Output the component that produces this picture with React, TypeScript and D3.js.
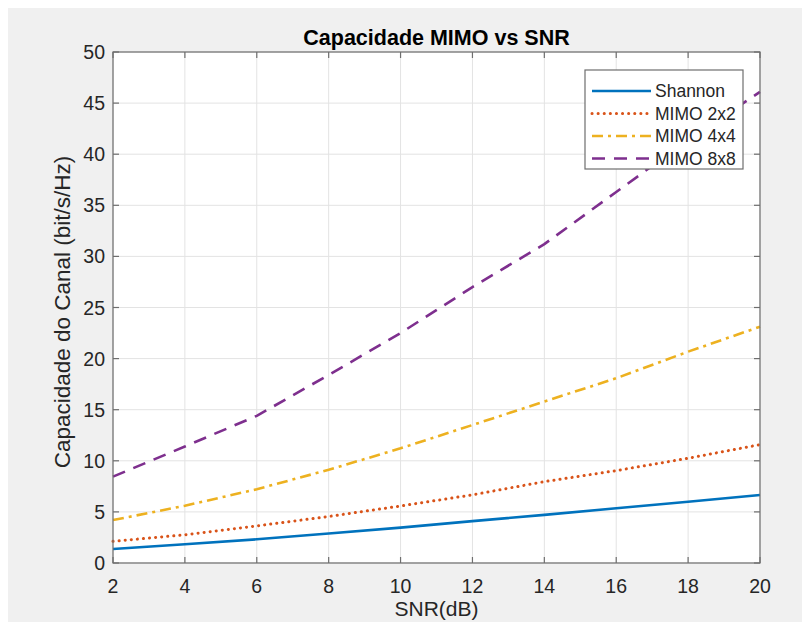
import React, { useEffect, useRef } from 'react';
import * as d3 from 'd3';

// SNR em dB
const snrDb = [2, 4, 6, 8, 10, 12, 14, 16, 18, 20];

// capacidade (bit/s/Hz)
const shannon = [1.37, 1.83, 2.32, 2.89, 3.46, 4.1, 4.71, 5.35, 6.0, 6.65];
const mimo2x2 = [2.12, 2.76, 3.63, 4.55, 5.58, 6.67, 7.96, 9.04, 10.25, 11.58];
const mimo4x4 = [4.2, 5.6, 7.22, 9.12, 11.22, 13.5, 15.8, 18.08, 20.68, 23.12];
const mimo8x8 = [8.45, 11.4, 14.4, 18.4, 22.5, 27.0, 31.2, 36.3, 41.4, 46.1];

const seriesNames = ['Shannon', 'MIMO 2x2', 'MIMO 4x4', 'MIMO 8x8'];
const xTicks = [2, 4, 6, 8, 10, 12, 14, 16, 18, 20];
const yTicks = [0, 5, 10, 15, 20, 25, 30, 35, 40, 45, 50];

const colors = ['#0072BD', '#D95319', '#EDB120', '#7E2F8E'];
const dashes = [null, '0.1 6', '11 5 3 5', '13 9'];
const caps = ['butt', 'round', 'butt', 'butt'];

const App = () => {
  const svgRef = useRef(null);

  useEffect(() => {
    const W = 802;
    const H = 614;
    const left = 105;
    const right = 752;
    const top = 44;
    const bottom = 555;
    const font = '"Liberation Sans", Arial, sans-serif';
    const axisColor = '#6e6e6e';

    const svg = d3.select(svgRef.current);
    svg.selectAll('*').remove();

    svg.append('rect').attr('width', W).attr('height', H).attr('fill', '#f0f0f0');

    const x = d3.scaleLinear().domain([2, 20]).range([left, right]);
    const y = d3.scaleLinear().domain([0, 50]).range([bottom, top]);

    svg.append('rect')
      .attr('x', left).attr('y', top)
      .attr('width', right - left).attr('height', bottom - top)
      .attr('fill', '#fff');

    // grelha
    const grid = svg.append('g').attr('stroke', '#e3e3e3').attr('stroke-width', 1);
    xTicks.forEach((t) => {
      grid.append('line').attr('x1', x(t)).attr('x2', x(t)).attr('y1', top).attr('y2', bottom);
    });
    yTicks.forEach((t) => {
      grid.append('line').attr('x1', left).attr('x2', right).attr('y1', y(t)).attr('y2', y(t));
    });

    // linhas
    const data = [shannon, mimo2x2, mimo4x4, mimo8x8];
    const line = d3.line()
      .x((d) => x(d[0]))
      .y((d) => y(d[1]));

    data.forEach((vals, i) => {
      const pts = snrDb.map((s, j) => [s, vals[j]]);
      const p = svg.append('path')
        .datum(pts)
        .attr('fill', 'none')
        .attr('stroke', colors[i])
        .attr('stroke-width', i === 1 ? 3 : 2.6)
        .attr('stroke-linecap', caps[i])
        .attr('d', line);
      if (dashes[i]) p.attr('stroke-dasharray', dashes[i]);
    });

    // eixos (caixa com ticks para dentro)
    const ax = svg.append('g').attr('stroke', axisColor).attr('stroke-width', 1.2).attr('fill', 'none');
    ax.append('rect')
      .attr('x', left).attr('y', top)
      .attr('width', right - left).attr('height', bottom - top);
    xTicks.forEach((t) => {
      ax.append('line').attr('x1', x(t)).attr('x2', x(t)).attr('y1', bottom).attr('y2', bottom - 6);
      ax.append('line').attr('x1', x(t)).attr('x2', x(t)).attr('y1', top).attr('y2', top + 6);
    });
    yTicks.forEach((t) => {
      ax.append('line').attr('x1', left).attr('x2', left + 6).attr('y1', y(t)).attr('y2', y(t));
      ax.append('line').attr('x1', right).attr('x2', right - 6).attr('y1', y(t)).attr('y2', y(t));
    });

    const txt = svg.append('g').attr('font-family', font).attr('fill', '#262626');

    xTicks.forEach((t) => {
      txt.append('text')
        .attr('x', x(t)).attr('y', bottom + 30)
        .attr('text-anchor', 'middle')
        .attr('font-size', 19.5)
        .text(t);
    });
    yTicks.forEach((t) => {
      txt.append('text')
        .attr('x', left - 8).attr('y', y(t) + 7)
        .attr('text-anchor', 'end')
        .attr('font-size', 19.5)
        .text(t);
    });

    txt.append('text')
      .attr('x', (left + right) / 2).attr('y', 37)
      .attr('text-anchor', 'middle')
      .attr('font-size', 21.5)
      .attr('font-weight', 'bold')
      .attr('fill', '#000')
      .text('Capacidade MIMO vs SNR');

    txt.append('text')
      .attr('x', (left + right) / 2).attr('y', 608)
      .attr('text-anchor', 'middle')
      .attr('font-size', 21)
      .text('SNR(dB)');

    txt.append('text')
      .attr('transform', `translate(62,304) rotate(-90)`)
      .attr('text-anchor', 'middle')
      .attr('font-size', 22.5)
      .text('Capacidade do Canal (bit/s/Hz)');

    // legenda
    const lg = svg.append('g').attr('transform', 'translate(577,62)');
    lg.append('rect')
      .attr('width', 158).attr('height', 99)
      .attr('fill', '#fff')
      .attr('stroke', axisColor)
      .attr('stroke-width', 1.2);
    seriesNames.forEach((name, i) => {
      const yy = 21 + i * 22.5;
      const l = lg.append('line')
        .attr('x1', 7).attr('x2', 66)
        .attr('y1', yy).attr('y2', yy)
        .attr('stroke', colors[i])
        .attr('stroke-width', i === 1 ? 3 : 2.6)
        .attr('stroke-linecap', caps[i]);
      if (dashes[i]) l.attr('stroke-dasharray', dashes[i]);
      lg.append('text')
        .attr('x', 70).attr('y', yy + 6)
        .attr('font-family', font)
        .attr('font-size', 17.5)
        .attr('fill', '#262626')
        .text(name);
    });
  }, []);

  return <svg ref={svgRef} width={802} height={614} style={{ display: 'block' }} />;
};

export default App;
